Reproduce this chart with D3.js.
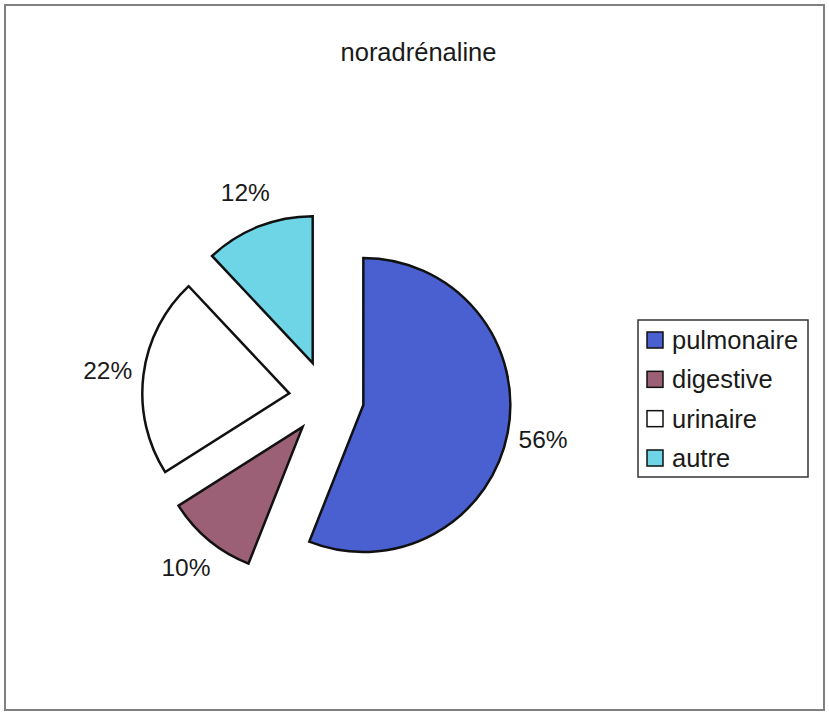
<!DOCTYPE html>
<html>
<head>
<meta charset="utf-8">
<script src="https://cdn.jsdelivr.net/npm/d3@7"></script>
<style>
  html, body { margin: 0; padding: 0; background: #ffffff; }
  svg { display: block; }
  text { font-family: "Liberation Sans", Arial, sans-serif; fill: #1a1a1a; }
</style>
</head>
<body>
<svg id="chart" width="829" height="719"></svg>
<script>
const title = "noradrénaline";
const categories = ["pulmonaire", "digestive", "urinaire", "autre"];
const values = [56, 10, 22, 12];
const labels = ["56%", "10%", "22%", "12%"];
const colors = ["#4a60d0", "#9c6076", "#ffffff", "#6dd5e6"];

const W = 829, H = 719;
const svg = d3.select("#chart");

// frame
svg.append("rect").attr("x", 5).attr("y", 5).attr("width", 819).attr("height", 705)
  .attr("fill", "#fff").attr("stroke", "#808080").attr("stroke-width", 2);

// title
svg.append("text").attr("x", 418.5).attr("y", 61).attr("text-anchor", "middle")
  .style("font-size", "25.5px").text(title);

// pie
const cx = 326.5, cy = 398, R = 147, explode = 37.5, labelDist = 183;
const pie = d3.pie().sort(null).value(d => d)(values);
const arc = d3.arc().innerRadius(0).outerRadius(R);

const g = svg.append("g").attr("transform", `translate(${cx},${cy})`);
pie.forEach((p, i) => {
  const mid = (p.startAngle + p.endAngle) / 2;
  const dx = Math.sin(mid), dy = -Math.cos(mid);
  const sg = g.append("g").attr("transform", `translate(${dx * explode},${dy * explode})`);
  sg.append("path").attr("d", arc(p)).attr("fill", colors[i])
    .attr("stroke", "#111").attr("stroke-width", 2.5).attr("stroke-linejoin", "miter");
  sg.append("text").attr("x", dx * labelDist).attr("y", dy * labelDist)
    .attr("text-anchor", "middle").attr("dominant-baseline", "central")
    .style("font-size", "24.5px").text(labels[i]);
});

// legend
const lg = svg.append("g").attr("transform", "translate(638,320)");
lg.append("rect").attr("width", 170).attr("height", 157).attr("fill", "#fff")
  .attr("stroke", "#333").attr("stroke-width", 1.5);
const rowY = d3.scalePoint().domain(categories).range([20, 138]);
categories.forEach((c, i) => {
  const y = rowY(c);
  lg.append("rect").attr("x", 9).attr("y", y - 8).attr("width", 16).attr("height", 16)
    .attr("fill", colors[i]).attr("stroke", "#111").attr("stroke-width", 1.5);
  lg.append("text").attr("x", 34).attr("y", y).attr("dominant-baseline", "central")
    .style("font-size", "25.5px").text(c);
});
</script>
</body>
</html>
